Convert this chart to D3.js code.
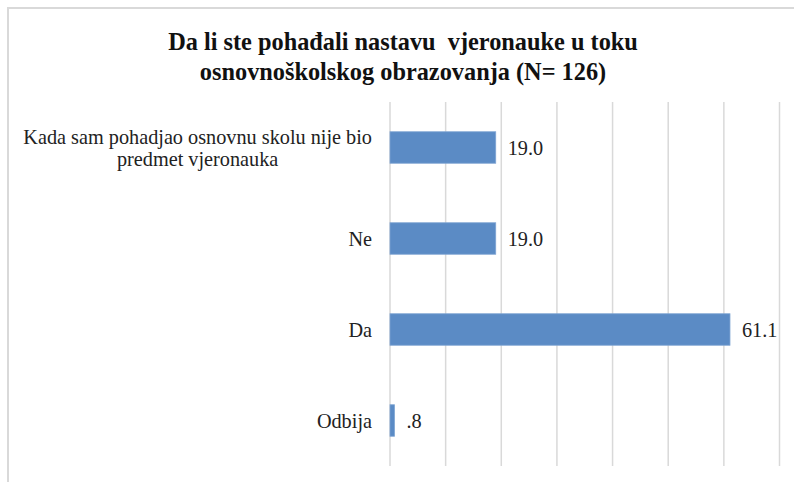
<!DOCTYPE html>
<html><head><meta charset="utf-8">
<script src="https://cdn.jsdelivr.net/npm/d3@7"></script>
<style>body{margin:0;background:#fff}svg{display:block}text{font-family:'Liberation Serif','Times New Roman','DejaVu Serif',serif;white-space:pre}</style>
</head><body>
<svg id="c" width="794" height="482"></svg>
<script>
const titleLines = ["Da li ste pohađali nastavu  vjeronauke u toku", "osnovnoškolskog obrazovanja (N= 126)"];
const categories = [
  ["Kada sam pohadjao osnovnu skolu nije bio", "predmet vjeronauka"],
  ["Ne"],
  ["Da"],
  ["Odbija"]
];
const values = [19.0, 19.0, 61.1, 0.8];
const valueLabels = ["19.0", "19.0", "61.1", ".8"];
const xTicks = [0, 10, 20, 30, 40, 50, 60, 70];

const svg = d3.select("#c");
const W = 794, H = 482;
svg.append("rect").attr("x", 0).attr("y", 0).attr("width", W).attr("height", H).attr("fill", "#fff");
svg.append("path").attr("d", "M8,482 L8,8 L794,8").attr("fill", "none").attr("stroke", "#d9d9d9").attr("stroke-width", 2);

const x = d3.scaleLinear().domain([0, 70]).range([390, 779.5]);
const y = d3.scaleBand().domain(d3.range(categories.length)).range([102, 466]).paddingInner(0.654).paddingOuter(0.327);

svg.append("g").selectAll("line").data(xTicks).join("line")
  .attr("x1", d => x(d)).attr("x2", d => x(d)).attr("y1", 102).attr("y2", 466)
  .attr("stroke", "#d9d9d9").attr("stroke-width", 1.5);

svg.append("g").selectAll("rect").data(values).join("rect")
  .attr("x", x(0)).attr("y", (d, i) => y(i)).attr("width", d => x(d) - x(0)).attr("height", y.bandwidth())
  .attr("fill", "#5b8bc5").attr("stroke", "#7ea4d3").attr("stroke-width", 0.8);

// measure font to fit reference widths
const probe = svg.append("text").attr("font-size", 20).text(categories[0][0]);
const labFont = 20 * 349 / probe.node().getComputedTextLength();
probe.attr("font-weight", "bold").text(titleLines[0]);
const titleFont = 20 * 470 / probe.node().getComputedTextLength();
probe.remove();

svg.append("g").selectAll("text").data(values).join("text")
  .attr("x", d => x(d) + 12).attr("y", (d, i) => y(i) + y.bandwidth() / 2)
  .attr("dy", "0.35em").attr("font-size", labFont).attr("fill", "#222")
  .text((d, i) => valueLabels[i]);

const labRight = 372, lineH = 22;
categories.forEach((lines, i) => {
  const cy = y(i) + y.bandwidth() / 2;
  const g = svg.append("g");
  const texts = lines.map((l, j) => g.append("text").attr("font-size", labFont)
    .attr("fill", "#222").attr("dy", "0.35em").attr("y", cy + (j - (lines.length - 1) / 2) * lineH).text(l));
  const maxW = d3.max(texts, t => t.node().getComputedTextLength());
  texts.forEach(t => t.attr("text-anchor", "middle").attr("x", labRight - maxW / 2));
});

titleLines.forEach((t, j) => {
  svg.append("text").attr("x", 403).attr("y", 50 + j * 30).attr("text-anchor", "middle")
    .attr("font-weight", "bold").attr("font-size", titleFont).attr("fill", "#111")
    .text(t);
});
</script>
</body></html>
